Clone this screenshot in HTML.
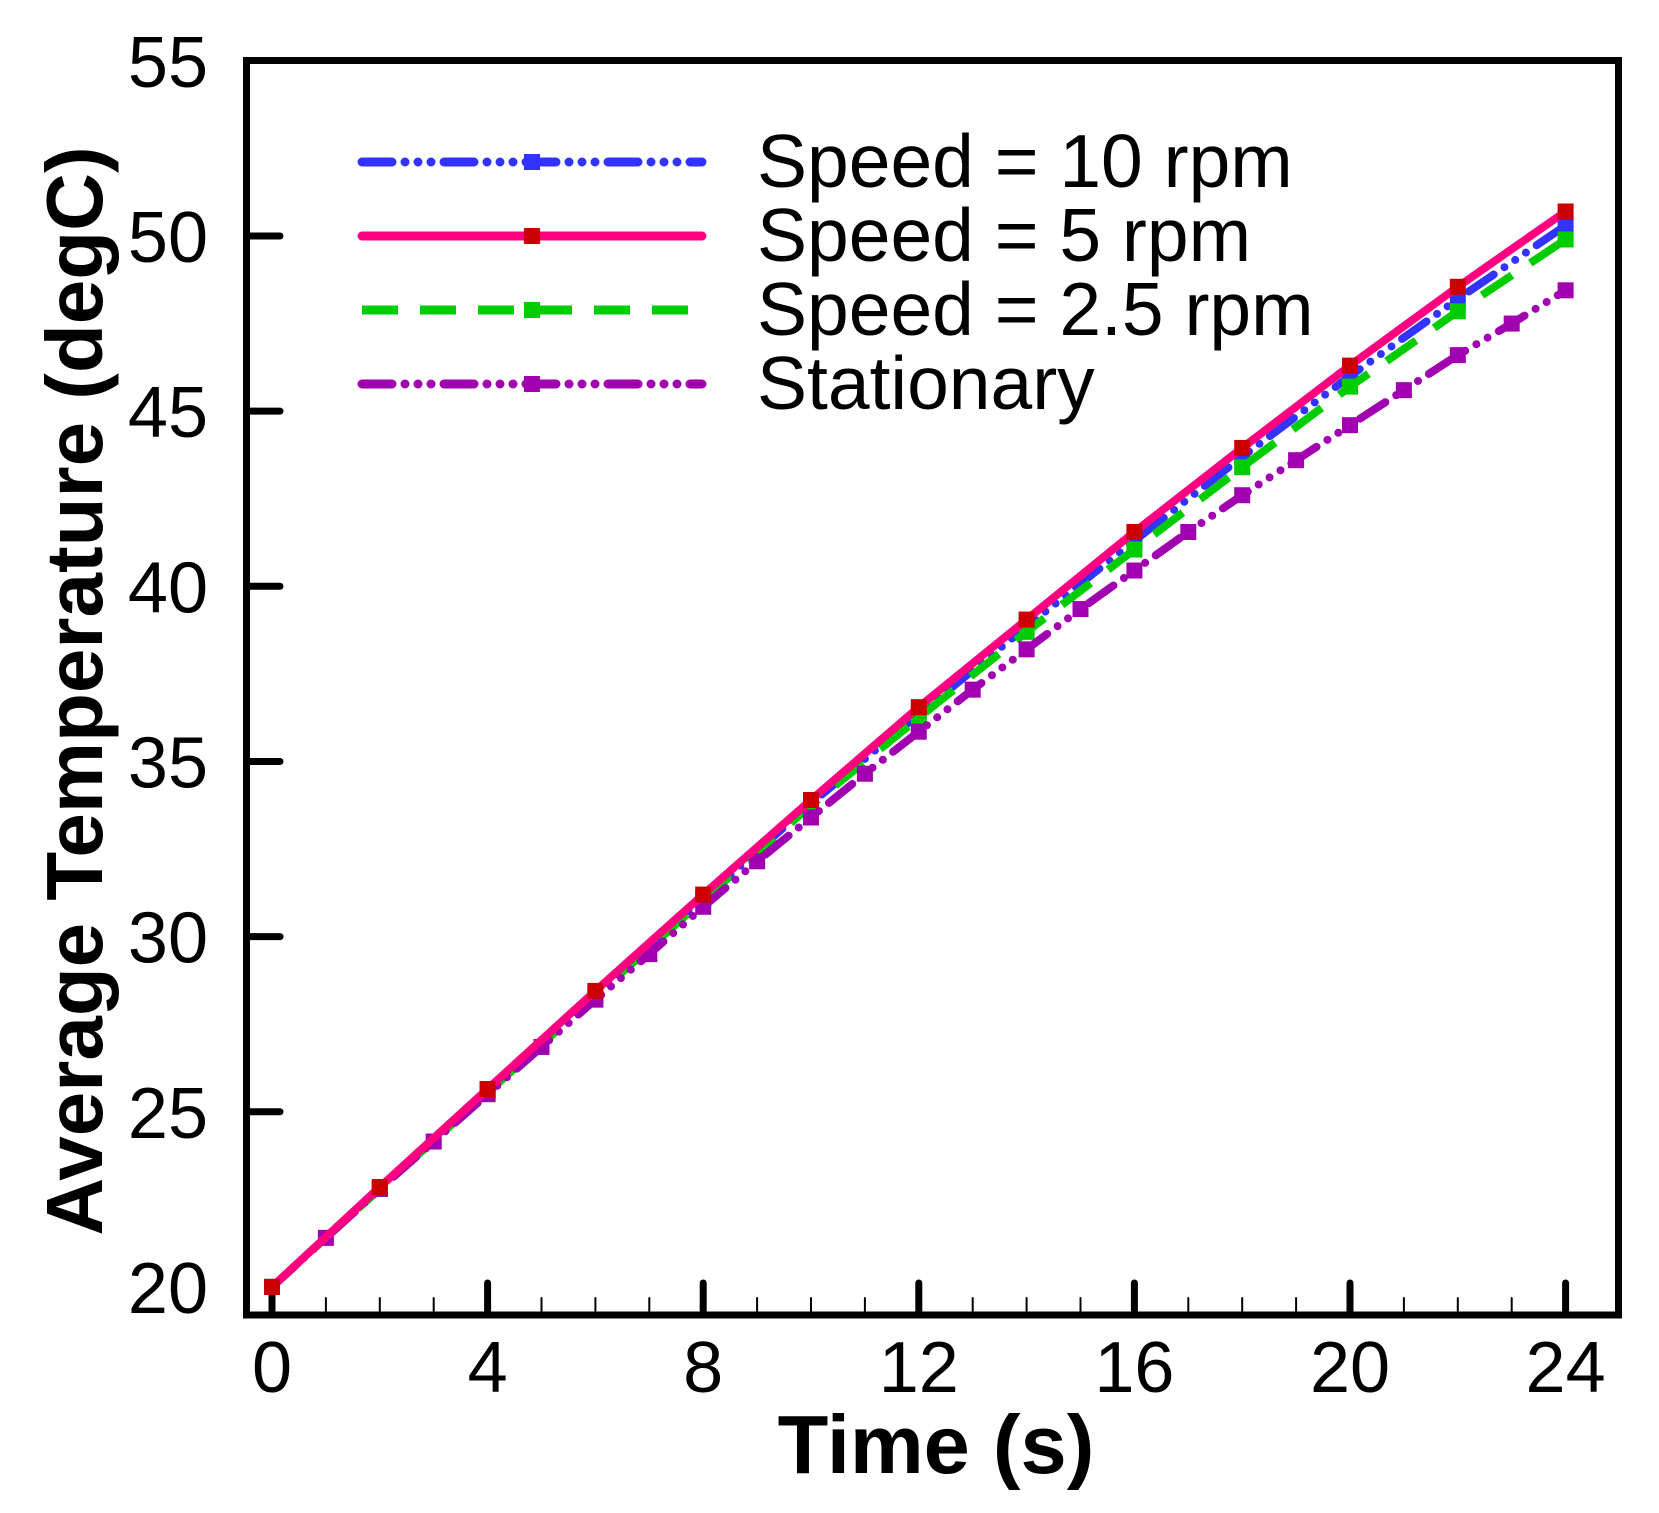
<!DOCTYPE html>
<html><head><style>
html,body{margin:0;padding:0;background:#fff}
svg{display:block}
text{font-family:"Liberation Sans",Arial,sans-serif}
</style></head><body>
<svg id="s" width="1659" height="1513" viewBox="0 0 1659 1513" xmlns="http://www.w3.org/2000/svg">
<rect width="1659" height="1513" fill="#fff"/>
<g id="ticks" stroke="#000" stroke-linecap="round"></g>
<g id="data"></g>
<rect x="246.5" y="60.5" width="1372" height="1254.5" fill="none" stroke="#000" stroke-width="7"/>
<g id="labels" font-size="72" fill="#000"></g>
<text x="936" y="1473" font-size="83" font-weight="bold" text-anchor="middle">Time (s)</text>
<text transform="translate(102,691) rotate(-90)" font-size="80" font-weight="bold" text-anchor="middle">Average Temperature (degC)</text>
<g font-size="75" fill="#000">
<text x="757" y="187">Speed = 10 rpm</text>
<text x="757" y="261">Speed = 5 rpm</text>
<text x="757" y="335">Speed = 2.5 rpm</text>
<text x="757" y="409">Stationary</text>
</g>
<g id="legend"></g>
</svg>
<script>
const NS="http://www.w3.org/2000/svg";
const X=t=>272+53.9*t, Y=v=>1987.5-35.03*v;
function el(p,tag,a){const e=document.createElementNS(NS,tag);for(const k in a)e.setAttribute(k,a[k]);p.appendChild(e);return e;}
const tk=document.getElementById('ticks'), lb=document.getElementById('labels');
for(let t=0;t<=24;t++){const x=X(t);const maj=t%4==0;
 el(tk,'line',{x1:x,y1:1315,x2:x,y2:maj?1283:1298,'stroke-width':maj?7:2});
 if(maj){const tx=el(lb,'text',{x:x,y:1392,'text-anchor':'middle'});tx.textContent=t;}}
for(let v=20;v<=55;v+=5){const y=Y(v);
 if(v<55&&v>20)el(tk,'line',{x1:246.5,y1:y,x2:280,y2:y,'stroke-width':7});
 const tx=el(lb,'text',{x:208,y:y+26,'text-anchor':'end'});tx.textContent=v;}
function ev(a){const r=[];for(let i=0;i<a.length;i++){r.push([i*2,a[i]]);}return r;}
const S=[
 {c:'#3333ff',m:'#3333ff',d:'30 13 0 13 0 13 0 13',cap:'round',p:ev([20,22.8,25.6,28.35,31.1,33.8,36.35,38.85,41.3,43.7,46.0,48.2,50.3]),ly:162},
 {c:'#00cc00',m:'#00cc00',d:'36 22',cap:'butt',p:ev([20,22.8,25.55,28.3,31.05,33.75,36.25,38.7,41.05,43.4,45.7,47.85,49.9]),ly:310},
 {c:'#a000b0',m:'#a000b0',d:'30 13 0 13 0 13 0 13',cap:'round',p:[20,21.4,22.8,24.15,25.5,26.85,28.2,29.5,30.85,32.15,33.4,34.65,35.85,37.05,38.2,39.35,40.45,41.55,42.6,43.6,44.6,45.6,46.6,47.5,48.45].map((v,i)=>[i,v]),ly:384},
 {c:'#ff0080',m:'#cc0000',d:'',cap:'round',p:ev([20,22.85,25.65,28.45,31.2,33.9,36.55,39.05,41.55,43.95,46.3,48.55,50.7]),ly:236}
];
const dg=document.getElementById('data'), lg=document.getElementById('legend');
for(const s of S){
 el(dg,'polyline',{points:s.p.map(q=>X(q[0])+','+Y(q[1])).join(' '),fill:'none',stroke:s.c,'stroke-width':8,'stroke-dasharray':s.d,'stroke-linecap':s.cap,'stroke-linejoin':'round'});
 for(const q of s.p) el(dg,'rect',{x:X(q[0])-8,y:Y(q[1])-8,width:16,height:16,fill:s.m});
 el(lg,'line',{x1:362,y1:s.ly,x2:702,y2:s.ly,stroke:s.c,'stroke-width':9,'stroke-dasharray':s.d,'stroke-linecap':s.cap});
 el(lg,'rect',{x:524,y:s.ly-8,width:16,height:16,fill:s.m});
}
</script>
</body></html>
